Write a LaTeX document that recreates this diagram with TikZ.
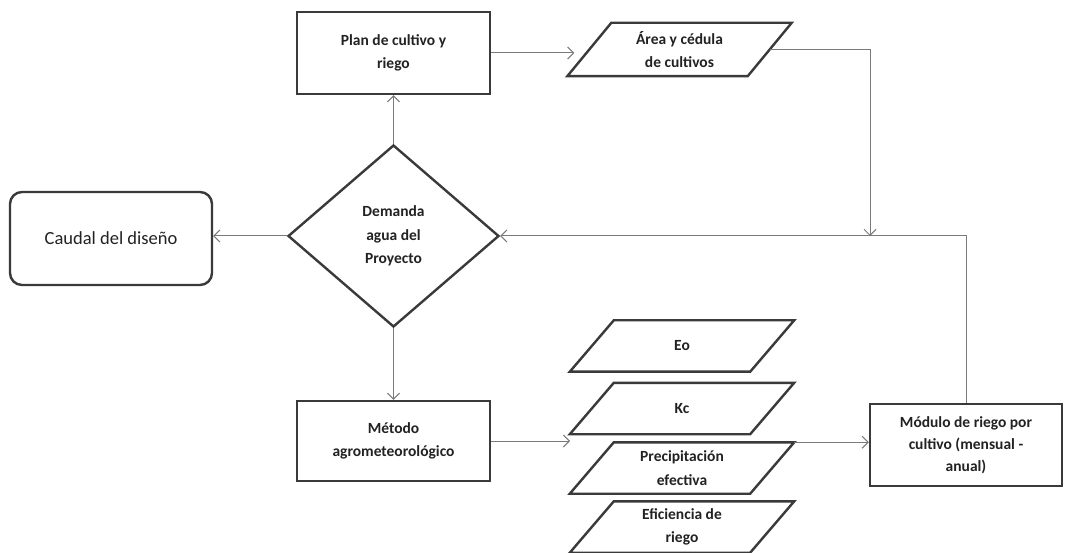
\documentclass[tikz,border=0pt]{standalone}
\usepackage{fontspec}
\setmainfont{Carlito}
\usetikzlibrary{arrows.meta,shapes.geometric,calc}
\definecolor{boxc}{HTML}{3A3A3A}
\definecolor{linec}{HTML}{7A7A7A}
\definecolor{txtc}{HTML}{222222}
\tikzset{
  txt/.style={align=center,text=txtc,font=\bfseries\fontsize{15.5}{23.5}\selectfont},
  box/.style={txt,draw=boxc,line width=2.4pt,inner sep=0pt},
  paranode/.style={txt,inner sep=0pt,minimum width=180pt,minimum height=51pt},
  paraline/.style={draw=boxc,line width=2.4pt,line join=miter},
  conn/.style={draw=linec,line width=1pt,-{Straight Barb[length=6pt,width=12pt,line width=1pt]}}
}
\newcommand\parashape[1]{%
  \draw[paraline] ([xshift=-22pt]#1.south west) -- ([xshift=22pt]#1.north west)
    -- ([xshift=22pt]#1.north east) -- ([xshift=-22pt]#1.south east) -- cycle;}
\begin{document}
\begin{tikzpicture}[x=1pt,y=-1pt]
\fill[white] (0,0) rectangle (1074,553);
\useasboundingbox (0,0) rectangle (1074,553);

\node[box,minimum width=193pt,minimum height=82pt] (plan) at (393.5,53) {Plan de cultivo y\\riego};
\node[box,diamond,minimum width=211pt,minimum height=182pt] (dem) at (393.5,236) {Demanda\\agua del\\Proyecto};
\node[box,rounded corners=12pt,minimum width=202pt,minimum height=93pt,font=\fontsize{18.5}{22}\selectfont] (caudal) at (111,238.5) {Caudal del diseño};
\node[box,minimum width=193pt,minimum height=80pt] (met) at (393.5,441) {Método\\agrometeorológico};
\node[box,minimum width=192pt,minimum height=82pt,font=\bfseries\fontsize{15.5}{22}\selectfont] (mod) at (966,445) {Módulo de riego por\\cultivo (mensual -\\anual)};

\node[paranode,minimum height=53pt] (area) at (679.5,49.5) {Área y cédula\\de cultivos};
\node[paranode] (eo) at (682,346) {Eo};
\node[paranode] (kc) at (682,408.5) {Kc};
\node[paranode] (prec) at (682,468) {Precipitación\\efectiva};
\node[paranode] (efi) at (682,527) {Eficiencia de\\riego};
\parashape{area}
\parashape{eo}
\parashape{kc}
\parashape{prec}
\parashape{efi}

\coordinate (join) at (870,236);
\coordinate (metin) at (570,441);

\draw[conn] (dem.north) -- (plan.south);
\draw[conn] (dem.south) -- (met.north);
\draw[conn] (dem.west) -- (dem.west -| caudal.east);
\draw[conn,shorten >=15pt] (plan.east) -- (plan.east -| area.west);
\draw[conn] (area.east) -| (join);
\draw[conn] (mod.north) |- (dem.east);
\draw[conn] (met.east) -- (metin);
\draw[conn] ([xshift=22pt]prec.north east) -- (prec.north east -| mod.west);
\end{tikzpicture}
\end{document}
